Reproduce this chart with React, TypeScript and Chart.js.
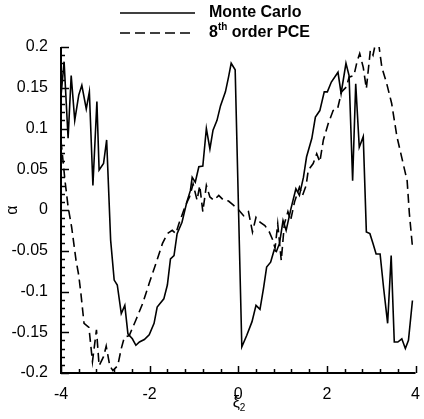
import React, { useEffect, useRef } from "react";
import { Chart, registerables } from "chart.js";

Chart.register(...registerables);

const mcX = [-4.0, -3.93, -3.84, -3.77, -3.69, -3.6, -3.53, -3.43, -3.36, -3.28, -3.19, -3.14, -3.04, -2.97, -2.88, -2.8, -2.73, -2.64, -2.56, -2.49, -2.39, -2.31, -2.23, -2.12, -2.01, -1.9, -1.83, -1.68, -1.6, -1.53, -1.45, -1.38, -1.27, -1.16, -1.08, -1.04, -0.97, -0.89, -0.8, -0.72, -0.64, -0.57, -0.48, -0.4, -0.29, -0.22, -0.16, -0.07, 0.08, 0.19, 0.31, 0.4, 0.49, 0.57, 0.64, 0.73, 0.81, 0.86, 0.93, 1.01, 1.08, 1.19, 1.3, 1.38, 1.47, 1.54, 1.66, 1.74, 1.84, 1.94, 2.01, 2.1, 2.25, 2.32, 2.43, 2.5, 2.58, 2.65, 2.73, 2.82, 2.89, 2.97, 3.04, 3.11, 3.2, 3.28, 3.37, 3.45, 3.52, 3.6, 3.69, 3.77, 3.84, 3.93];
const mcY = [0.14, 0.182, 0.088, 0.165, 0.11, 0.141, 0.153, 0.124, 0.145, 0.03, 0.133, 0.049, 0.057, 0.086, -0.037, -0.086, -0.092, -0.127, -0.117, -0.152, -0.158, -0.166, -0.162, -0.159, -0.153, -0.139, -0.119, -0.109, -0.092, -0.06, -0.056, -0.029, -0.015, 0.01, 0.024, 0.04, 0.034, 0.053, 0.054, 0.1, 0.075, 0.098, 0.11, 0.128, 0.145, 0.163, 0.18, 0.172, -0.168, -0.154, -0.137, -0.117, -0.122, -0.096, -0.07, -0.064, -0.049, -0.051, -0.041, -0.013, -0.025, 0.002, 0.026, 0.018, 0.04, 0.065, 0.088, 0.114, 0.122, 0.145, 0.145, 0.157, 0.169, 0.143, 0.18, 0.165, 0.036, 0.155, 0.077, 0.09, -0.027, -0.029, -0.041, -0.054, -0.054, -0.096, -0.139, -0.056, -0.162, -0.162, -0.158, -0.17, -0.16, -0.111];

const pceX = [-4.0, -3.91, -3.84, -3.76, -3.66, -3.6, -3.55, -3.48, -3.37, -3.29, -3.2, -3.14, -3.04, -2.98, -2.9, -2.83, -2.72, -2.64, -2.57, -2.46, -2.31, -2.16, -2.01, -1.86, -1.71, -1.6, -1.49, -1.41, -1.34, -1.19, -1.1, -1.02, -0.93, -0.87, -0.8, -0.72, -0.64, -0.55, -0.44, -0.33, -0.22, -0.11, 0.01, 0.12, 0.23, 0.32, 0.4, 0.49, 0.6, 0.7, 0.78, 0.83, 0.89, 0.97, 1.04, 1.12, 1.18, 1.27, 1.38, 1.45, 1.53, 1.58, 1.69, 1.77, 1.84, 1.92, 2.03, 2.14, 2.24, 2.33, 2.44, 2.5, 2.61, 2.68, 2.74, 2.82, 2.89, 2.98, 3.04, 3.09, 3.17, 3.24, 3.35, 3.46, 3.58, 3.72, 3.81, 3.86, 3.93];
const pceY = [0.085, 0.036, 0.004, -0.021, -0.062, -0.08, -0.103, -0.139, -0.144, -0.186, -0.147, -0.191, -0.18, -0.167, -0.191, -0.197, -0.191, -0.17, -0.156, -0.154, -0.135, -0.115, -0.09, -0.066, -0.041, -0.029, -0.025, -0.029, -0.017, 0.006, 0.016, 0.032, 0.012, 0.03, -0.002, 0.03, 0.016, 0.012, 0.018, 0.012, 0.011, 0.006, 0.0, -0.007, -0.002, -0.027, -0.009, -0.015, -0.019, -0.027, -0.037, -0.047, -0.017, -0.062, -0.017, -0.002, -0.013, 0.01, 0.028, 0.018, 0.03, 0.049, 0.057, 0.069, 0.059, 0.086, 0.106, 0.122, 0.124, 0.145, 0.151, 0.163, 0.165, 0.182, 0.192, 0.175, 0.149, 0.196, 0.19, 0.203, 0.203, 0.175, 0.155, 0.131, 0.09, 0.057, 0.036, -0.004, -0.045];

const seriesNames = ["Monte Carlo", "8th order PCE"];
const xTickValues = [-4, -2, 0, 2, 4];

const FONT = "'Liberation Sans', Arial, sans-serif";

const decorPlugin = {
  id: "decor",
  afterDraw(chart: any) {
    const ctx = chart.ctx;
    const xs = chart.scales.x;
    const ys = chart.scales.y;
    const area = chart.chartArea;
    ctx.save();
    ctx.strokeStyle = "#000";
    ctx.fillStyle = "#000";
    // axis lines
    ctx.lineWidth = 2;
    ctx.beginPath();
    ctx.moveTo(area.left, area.top);
    ctx.lineTo(area.left, area.bottom);
    ctx.lineTo(area.right, area.bottom);
    ctx.stroke();
    // y ticks (inside)
    ctx.lineWidth = 1.5;
    ctx.beginPath();
    for (let i = 0; i <= 40; i++) {
      const v = -0.2 + i * 0.01;
      const py = Math.round(ys.getPixelForValue(v)) + 0.5;
      const len = i % 5 === 0 ? 8 : 4;
      ctx.moveTo(area.left, py);
      ctx.lineTo(area.left + len, py);
    }
    // x ticks (inside)
    for (let i = 0; i <= 20; i++) {
      const v = -4 + i * 0.4;
      const px = Math.round(xs.getPixelForValue(v)) + 0.5;
      const len = i % 5 === 0 ? 7 : 4;
      ctx.moveTo(px, area.bottom);
      ctx.lineTo(px, area.bottom - len);
    }
    ctx.stroke();

    // legend
    const lx0 = 120, lx1 = 195, tx = 209;
    const rows = [13, 33];
    ctx.lineWidth = 1.5;
    ctx.setLineDash([]);
    ctx.beginPath();
    ctx.moveTo(lx0, rows[0]);
    ctx.lineTo(lx1, rows[0]);
    ctx.stroke();
    ctx.setLineDash([10, 5]);
    ctx.beginPath();
    ctx.moveTo(lx0, rows[1]);
    ctx.lineTo(lx1, rows[1]);
    ctx.stroke();
    ctx.setLineDash([]);
    ctx.textBaseline = "middle";
    ctx.textAlign = "left";
    ctx.font = `bold 16px ${FONT}`;
    ctx.fillText(seriesNames[0], tx, rows[0]);
    // "8th order PCE" with superscript
    ctx.fillText("8", tx, rows[1]);
    const w8 = ctx.measureText("8").width;
    ctx.font = `bold 10px ${FONT}`;
    ctx.fillText("th", tx + w8, rows[1] - 6);
    const wth = ctx.measureText("th").width;
    ctx.font = `bold 16px ${FONT}`;
    ctx.fillText(" order PCE", tx + w8 + wth, rows[1]);

    // y title alpha
    ctx.font = `16px ${FONT}`;
    ctx.save();
    ctx.translate(13, (area.top + area.bottom) / 2);
    ctx.rotate(-Math.PI / 2);
    ctx.textAlign = "center";
    ctx.fillText("α", 0, 0);
    ctx.restore();

    // x title xi_2
    const cx = xs.getPixelForValue(0);
    ctx.font = `16px ${FONT}`;
    ctx.textAlign = "left";
    const wxi = ctx.measureText("ξ").width;
    ctx.fillText("ξ", cx - wxi / 2 - 2, 403);
    ctx.font = `10px ${FONT}`;
    ctx.fillText("2", cx + wxi / 2 - 2, 408);
    ctx.restore();
  },
};

export default function App() {
  const ref = useRef<HTMLCanvasElement | null>(null);
  useEffect(() => {
    document.body.style.margin = "0";
    const canvas = ref.current;
    if (!canvas) return;
    const chart = new Chart(canvas, {
      type: "line",
      data: {
        datasets: [
          {
            label: seriesNames[0],
            data: mcX.map((x, i) => ({ x, y: mcY[i] })),
            borderColor: "#000",
            borderWidth: 1.6,
            pointRadius: 0,
            tension: 0,
            fill: false,
          },
          {
            label: seriesNames[1],
            data: pceX.map((x, i) => ({ x, y: pceY[i] })),
            borderColor: "#000",
            borderWidth: 1.6,
            borderDash: [9, 5],
            pointRadius: 0,
            tension: 0,
            fill: false,
          },
        ],
      },
      options: {
        animation: false,
        responsive: false,
        devicePixelRatio: 1,
        layout: { padding: { top: 47, right: 5, left: 0, bottom: 0 } },
        plugins: { legend: { display: false }, tooltip: { enabled: false } },
        scales: {
          x: {
            type: "linear",
            min: -4,
            max: 4,
            afterFit: (s: any) => {
              s.height = 46;
            },
            afterBuildTicks: (s: any) => {
              s.ticks = xTickValues.map((v) => ({ value: v }));
            },
            grid: { display: false },
            border: { display: false },
            ticks: {
              padding: 4,
              color: "#000",
              font: { family: FONT, size: 16 },
              maxRotation: 0,
              autoSkip: false,
              callback: (v: any) => String(v),
            },
          },
          y: {
            type: "linear",
            min: -0.2,
            max: 0.2,
            afterFit: (s: any) => {
              s.width = 61;
            },
            grid: { display: false },
            border: { display: false },
            ticks: {
              stepSize: 0.05,
              padding: 5,
              color: "#000",
              font: { family: FONT, size: 16 },
              callback: (v: any) => String(Number(Number(v).toFixed(2))),
            },
          },
        },
      },
      plugins: [decorPlugin],
    });
    return () => chart.destroy();
  }, []);
  return (
    <div style={{ position: "relative", width: 424, height: 419 }}>
      <canvas ref={ref} width={424} height={419} style={{ display: "block" }} />
    </div>
  );
}
